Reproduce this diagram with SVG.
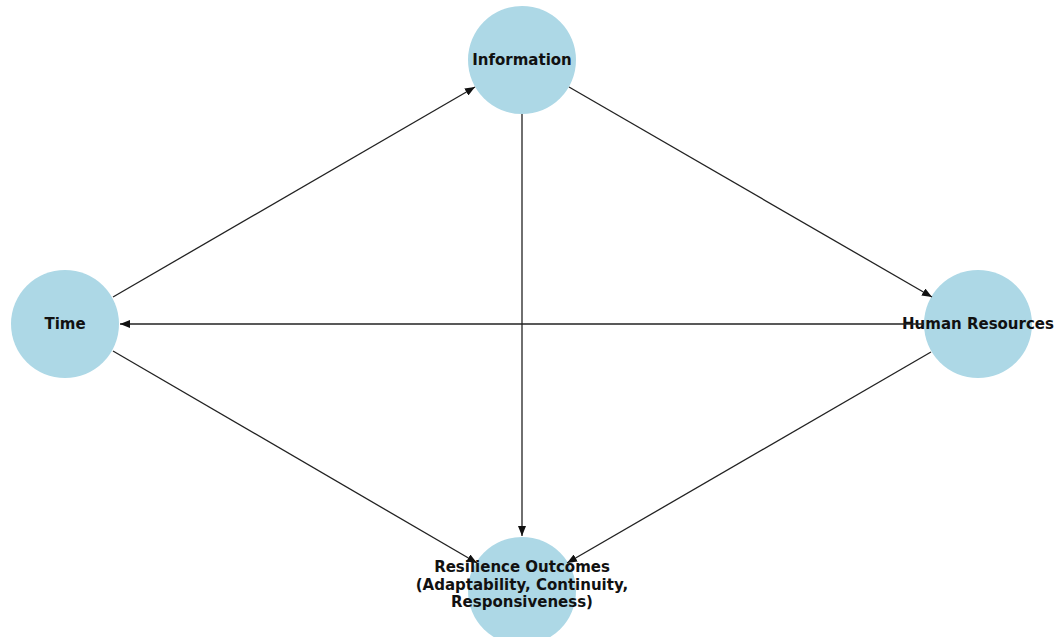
<svg xmlns="http://www.w3.org/2000/svg" width="1056" height="637" viewBox="0 0 1056 637">
<style>
.node{fill:#add8e6;}
.lbl{font-family:"DejaVu Sans",sans-serif;font-weight:bold;font-size:15px;fill:#111;text-anchor:middle;}
.edge{stroke:#222;stroke-width:1.3;fill:none;marker-end:url(#arr);}
</style>
<defs>
<marker id="arr" viewBox="0 0 10 8" refX="10" refY="4" markerWidth="10" markerHeight="8" markerUnits="userSpaceOnUse" orient="auto">
<path d="M0,0 L10,4 L0,8 z" fill="#111"/>
</marker>
</defs>
<rect width="1056" height="637" fill="#fff"/>
<g id="n-information"><circle class="node" cx="522" cy="60" r="54"/><text class="lbl" x="522" y="65">Information</text></g>
<g id="n-time"><circle class="node" cx="65" cy="324" r="54"/><text class="lbl" x="65" y="329">Time</text></g>
<g id="n-human"><circle class="node" cx="978" cy="324" r="54"/><text class="lbl" x="978" y="329">Human Resources</text></g>
<g id="n-resilience"><circle class="node" cx="522" cy="591" r="54"/>
<text class="lbl" x="522" y="572">Resilience Outcomes</text>
<text class="lbl" x="522" y="590">(Adaptability, Continuity,</text>
<text class="lbl" x="522" y="607">Responsiveness)</text></g>
<g id="edges">
<line class="edge" x1="113" y1="297" x2="475" y2="87"/>
<line class="edge" x1="569" y1="87" x2="932" y2="297"/>
<line class="edge" x1="924" y1="324" x2="120" y2="324"/>
<line class="edge" x1="522" y1="114" x2="522" y2="536"/>
<line class="edge" x1="113" y1="351" x2="477" y2="563"/>
<line class="edge" x1="931" y1="352" x2="567" y2="563"/>
</g>
</svg>
